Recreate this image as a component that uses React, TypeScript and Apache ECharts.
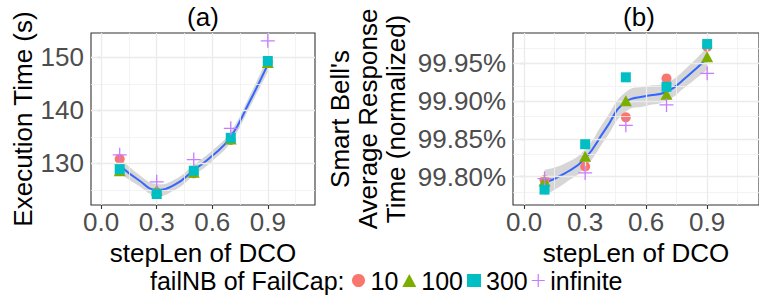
import React, { useEffect, useRef } from 'react';
import * as echarts from 'echarts';

// ---------- data ----------
const stepLen = [0.1, 0.3, 0.5, 0.7, 0.9];
const fitX = [0.1, 0.2, 0.3, 0.4, 0.5, 0.6, 0.7, 0.8, 0.9];
const groups = ['10', '100', '300', 'infinite'];

// (a) Execution Time (s)
const execCap10 = [130.8, 124.5, 128.1, 134.4, 149.1];
const execCap100 = [128.6, 124.9, 128.3, 134.6, 149.0];
const execCap300 = [128.9, 124.2, 128.6, 134.8, 149.3];
const execCapInf = [131.6, 126.5, 130.7, 136.6, 153.1];
const execFit = [129.6, 126.9, 125.0, 126.0, 128.7, 131.4, 135.0, 141.5, 148.6];
const execSe = [1.5, 1.1, 1.1, 1.0, 1.0, 1.0, 1.0, 1.1, 1.4];

// (b) Average response time (normalized, %)
const respCap10 = [99.7956, 99.8135, 99.8786, 99.93, 99.972];
const respCap100 = [99.7945, 99.827, 99.9005, 99.909, 99.9587];
const respCap300 = [99.783, 99.843, 99.9315, 99.919, 99.9755];
const respCapInf = [99.7975, 99.805, 99.868, 99.895, 99.9368];
const respFit = [99.7921, 99.8045, 99.8243, 99.863, 99.8992, 99.9067, 99.9124, 99.9323, 99.9566];
const respSe = [0.017, 0.013, 0.012, 0.013, 0.013, 0.013, 0.012, 0.012, 0.015];

// ticks
const xTicks = [0, 0.3, 0.6, 0.9];
const xMinor = [0.15, 0.45, 0.75, 1.05];
const execTicks = [130, 140, 150];
const execMinor = [125, 135, 145];
const respTicks = [99.8, 99.85, 99.9, 99.95];
const respMinor = [99.775, 99.825, 99.875, 99.925, 99.975];

// ---------- styles ----------
const FONT = "'Liberation Sans', Arial, Helvetica, sans-serif";
const FS = 26;
const COLORS = ['#F8766D', '#7CAE00', '#00BFC4', '#C77CFF'];
const PLUS = 'path://M0,6.35H14V7.65H0Z M6.35,0H7.65V14H6.35Z';
const SYMBOLS: any[] = ['circle', 'triangle', 'rect', PLUS];
const SYMBOL_SIZES: any[] = [10, [12, 11], 10, 14];

// smooth band shape (same control-point scheme as ECharts smooth lines)
function smoothTrace(ctx: any, pts: number[][], s: number, first: boolean) {
  const n = pts.length;
  const cin: number[][] = [];
  const cout: number[][] = [];
  for (let i = 0; i < n; i++) {
    const p = pts[i];
    if (i === 0 || i === n - 1) {
      cin.push(p);
      cout.push(p);
      continue;
    }
    const pr = pts[i - 1];
    const nx = pts[i + 1];
    const vx = nx[0] - pr[0];
    const vy = nx[1] - pr[1];
    const l0 = Math.hypot(p[0] - pr[0], p[1] - pr[1]);
    const l1 = Math.hypot(nx[0] - p[0], nx[1] - p[1]);
    const r = l1 / (l0 + l1);
    cin.push([p[0] - vx * s * (1 - r), p[1] - vy * s * (1 - r)]);
    cout.push([p[0] + vx * s * r, p[1] + vy * s * r]);
  }
  if (first) ctx.moveTo(pts[0][0], pts[0][1]);
  else ctx.lineTo(pts[0][0], pts[0][1]);
  for (let i = 0; i < n - 1; i++) {
    ctx.bezierCurveTo(cout[i][0], cout[i][1], cin[i + 1][0], cin[i + 1][1], pts[i + 1][0], pts[i + 1][1]);
  }
}

const BandShape = (echarts as any).graphic.extendShape({
  shape: { upper: [], lower: [] },
  buildPath(ctx: any, shape: any) {
    const up = shape.upper || [];
    const lo = (shape.lower || []).slice().reverse();
    if (!up.length) return;
    smoothTrace(ctx, up, 0.5, true);
    smoothTrace(ctx, lo, 0.5, false);
    ctx.closePath();
  },
});
(echarts as any).graphic.registerShape('seBand', BandShape);

function gridLinesSeries(idx: number, yMajor: number[], yMinor: number[]) {
  const major = { color: '#EBEBEB', width: 1.3, type: 'solid' };
  const minor = { color: '#F0F0F0', width: 0.8, type: 'solid' };
  const data: any[] = [];
  xMinor.forEach((v) => data.push({ xAxis: v, lineStyle: minor }));
  yMinor.forEach((v) => data.push({ yAxis: v, lineStyle: minor }));
  xTicks.forEach((v) => data.push({ xAxis: v, lineStyle: major }));
  yMajor.forEach((v) => data.push({ yAxis: v, lineStyle: major }));
  return {
    type: 'line',
    xAxisIndex: idx,
    yAxisIndex: idx,
    data: [],
    z: 1,
    silent: true,
    markLine: {
      silent: true,
      symbol: ['none', 'none'],
      label: { show: false },
      emphasis: { disabled: true },
      animation: false,
      data,
    },
  };
}

function bandSeries(idx: number, fit: number[], se: number[]) {
  return {
    type: 'custom',
    xAxisIndex: idx,
    yAxisIndex: idx,
    z: 2,
    silent: true,
    data: [[fitX[0], fit[0]]],
    renderItem: (_p: any, api: any) => {
      const upper = fitX.map((x, i) => api.coord([x, fit[i] + se[i]]));
      const lower = fitX.map((x, i) => api.coord([x, fit[i] - se[i]]));
      return {
        type: 'seBand',
        shape: { upper, lower },
        style: { fill: 'rgba(153,153,153,0.4)', stroke: 'none' },
      };
    },
  };
}

function fitSeries(idx: number, fit: number[]) {
  return {
    type: 'line',
    xAxisIndex: idx,
    yAxisIndex: idx,
    z: 3,
    silent: true,
    smooth: 0.5,
    showSymbol: false,
    symbol: 'none',
    lineStyle: { color: '#3366FF', width: 2 },
    data: fitX.map((x, i) => [x, fit[i]]),
  };
}

function pointSeries(idx: number, arrays: number[][]) {
  return arrays.map((vals, g) => ({
    type: 'scatter',
    name: groups[g],
    xAxisIndex: idx,
    yAxisIndex: idx,
    z: 4 + g,
    symbol: SYMBOLS[g],
    symbolSize: SYMBOL_SIZES[g],
    itemStyle: { color: COLORS[g], opacity: 1 },
    emphasis: { disabled: true },
    data: stepLen.map((x, i) => [x, vals[i]]),
  }));
}

function xAxis(idx: number) {
  return {
    type: 'value',
    gridIndex: idx,
    min: -0.055,
    max: 1.155,
    axisLine: { show: false },
    splitLine: { show: false },
    axisTick: { show: true, length: 4, customValues: xTicks, lineStyle: { color: '#333', width: 1.1 } },
    axisLabel: {
      customValues: xTicks,
      formatter: (v: number) => v.toFixed(1),
      fontSize: FS,
      fontFamily: FONT,
      color: '#4D4D4D',
      margin: 4,
    },
    name: 'stepLen of DCO',
    nameLocation: 'middle',
    nameGap: 28,
    nameTextStyle: { fontSize: FS, fontFamily: FONT, color: '#000' },
  };
}

function textEl(text: string, x: number, y: number, align: string, fs: number) {
  return {
    type: 'text',
    x,
    y,
    silent: true,
    style: {
      text,
      fontSize: fs,
      fontFamily: FONT,
      fill: '#000',
      align,
      textAlign: align,
      verticalAlign: 'middle',
      textVerticalAlign: 'middle',
    },
  };
}

export default function App() {
  const ref = useRef<HTMLDivElement>(null);
  useEffect(() => {
    if (!ref.current) return;
    const chart = echarts.init(ref.current, undefined, { renderer: 'svg' });
    const option: any = {
      animation: false,
      textStyle: { fontFamily: FONT },
      grid: [
        { left: 91, top: 33, width: 224, height: 172, show: true, borderColor: '#333', borderWidth: 1.1, backgroundColor: '#fff' },
        { left: 513, top: 33, width: 252, height: 172, show: true, borderColor: '#333', borderWidth: 1.1, backgroundColor: '#fff' },
      ],
      xAxis: [xAxis(0), xAxis(1)],
      yAxis: [
        {
          type: 'value',
          gridIndex: 0,
          min: 122.13,
          max: 154.58,
          axisLine: { show: false },
          splitLine: { show: false },
          axisTick: { show: true, length: 4, customValues: execTicks, lineStyle: { color: '#333', width: 1.1 } },
          axisLabel: { customValues: execTicks, fontSize: FS, fontFamily: FONT, color: '#4D4D4D', margin: 7 },
          name: 'Execution Time (s)',
          nameLocation: 'middle',
          nameGap: 55,
          nameTextStyle: { fontSize: FS, fontFamily: FONT, color: '#000' },
        },
        {
          type: 'value',
          gridIndex: 1,
          min: 99.7626,
          max: 99.9901,
          axisLine: { show: false },
          splitLine: { show: false },
          axisTick: { show: true, length: 4, customValues: respTicks, lineStyle: { color: '#333', width: 1.1 } },
          axisLabel: {
            customValues: respTicks,
            formatter: (v: number) => v.toFixed(2) + '%',
            fontSize: FS,
            fontFamily: FONT,
            color: '#4D4D4D',
            margin: 7,
          },
          name: "Smart Bell's\nAverage Response\nTime (normalized)",
          nameLocation: 'middle',
          nameGap: 103,
          nameTextStyle: { fontSize: FS, lineHeight: 28, fontFamily: FONT, color: '#000', align: 'center' },
        },
      ],
      legend: {
        left: 352,
        top: 268,
        padding: 0,
        itemGap: 4,
        itemWidth: 14,
        itemHeight: 13,
        selectedMode: false,
        textStyle: { fontSize: 25, lineHeight: 25, fontFamily: FONT, color: '#000', padding: [0, 0, 0, 0] },
        data: groups.map((g, i) => ({ name: g, icon: SYMBOLS[i], itemStyle: { color: COLORS[i], opacity: 1 } })),
      },
      graphic: [
        textEl('(a)', 203, 17, 'center', FS),
        textEl('(b)', 639, 17, 'center', FS),
        textEl('failNB of FailCap:', 150, 280.5, 'left', 25),
      ],
      series: [
        gridLinesSeries(0, execTicks, execMinor),
        bandSeries(0, execFit, execSe),
        fitSeries(0, execFit),
        ...pointSeries(0, [execCap10, execCap100, execCap300, execCapInf]),
        gridLinesSeries(1, respTicks, respMinor),
        bandSeries(1, respFit, respSe),
        fitSeries(1, respFit),
        ...pointSeries(1, [respCap10, respCap100, respCap300, respCapInf]),
      ],
    };
    chart.setOption(option);
    return () => chart.dispose();
  }, []);
  return (
    <div
      ref={ref}
      style={{ position: 'absolute', left: 0, top: 0, width: 759, height: 300, background: '#fff' }}
    />
  );
}
